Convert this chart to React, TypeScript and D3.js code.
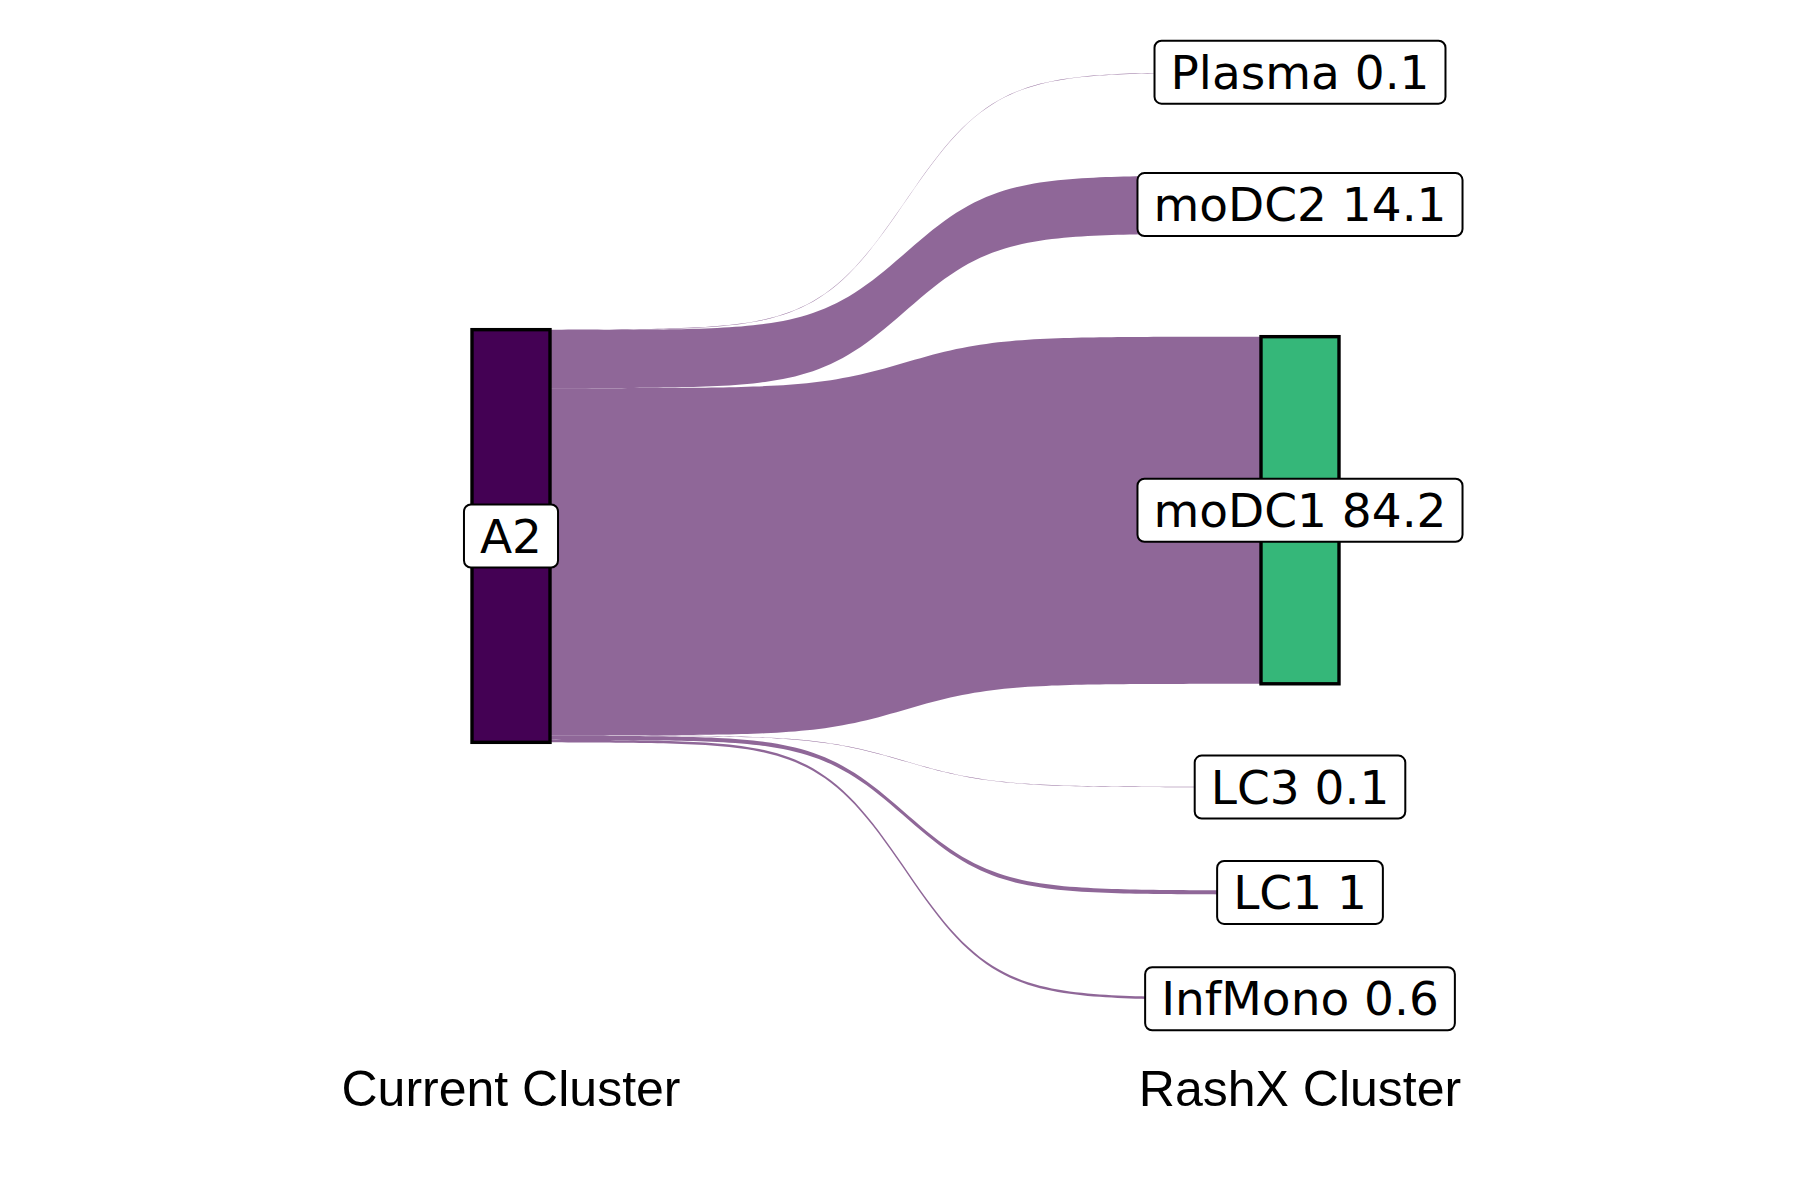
import React, { useEffect, useRef } from "react";
import * as d3 from "d3";

// current cluster (left) and the RashX clusters it maps to (right), in %
const sourceNode = "A2";
const targetNodes = ["Plasma", "moDC2", "moDC1", "LC3", "LC1", "InfMono"];
const flowValues = [0.1, 14.1, 84.2, 0.1, 1, 0.6];
const targetColors = ["#443A83", "#31688E", "#35B779", "#21908C", "#8FD744", "#FDE725"];
const axisLabels = ["Current Cluster", "RashX Cluster"];

const W = 1800, H = 1200;

const App = () => {
  const ref = useRef<SVGSVGElement>(null);

  useEffect(() => {
    const svg = d3.select(ref.current);
    svg.selectAll("*").remove();

    const space = 25; // gap between nodes, in value units
    const total = d3.sum(flowValues);
    const xScale = d3.scaleLinear().domain([0, 1]).range([511, 1300]);
    const yScale = d3.scaleLinear().domain([0, total + space * (targetNodes.length - 1)]).range([72, 1000]);
    const k = yScale(1) - yScale(0);
    const nodeW = 78;
    const mid = (yScale.range()[0] + yScale.range()[1]) / 2;

    // right-hand node tops
    let acc = 0;
    const rightNodes = targetNodes.map((name, i) => {
      const y0 = yScale(acc);
      acc += flowValues[i] + space;
      return { name, value: flowValues[i], y0, y1: y0 + flowValues[i] * k, color: targetColors[i] };
    });
    const leftTop = mid - (total * k) / 2;
    const leftBottom = mid + (total * k) / 2;

    // flows (sigmoid curves like ggsankey)
    const xL = xScale(0) + nodeW / 2, xR = xScale(1) - nodeW / 2;
    const smooth = 8, n = 120;
    const ts = d3.range(n).map(i => -smooth + (2 * smooth * i) / (n - 1));
    const sig = (t: number) => 1 / (1 + Math.exp(-t));
    const s0 = sig(-smooth), s1 = sig(smooth);
    const curve = (ya: number, yb: number) =>
      ts.map(t => [xL + ((t + smooth) / (2 * smooth)) * (xR - xL), ya + ((sig(t) - s0) / (s1 - s0)) * (yb - ya)] as [number, number]);

    let cum = leftTop;
    const flowG = svg.append("g");
    rightNodes.forEach(nd => {
      const h = nd.value * k;
      const top = curve(cum, nd.y0);
      const bottom = curve(cum + h, nd.y1).reverse();
      cum += h;
      flowG.append("path")
        .attr("d", d3.line()([...top, ...bottom]) + "Z")
        .attr("fill", "#440154")
        .attr("fill-opacity", 0.6)
        .attr("stroke", "none");
    });

    // nodes
    svg.append("rect")
      .attr("x", xScale(0) - nodeW / 2).attr("y", leftTop)
      .attr("width", nodeW).attr("height", leftBottom - leftTop)
      .attr("fill", "#440154").attr("stroke", "black").attr("stroke-width", 3.4);
    rightNodes.forEach(nd => {
      svg.append("rect")
        .attr("x", xScale(1) - nodeW / 2).attr("y", nd.y0)
        .attr("width", nodeW).attr("height", nd.y1 - nd.y0)
        .attr("fill", nd.color).attr("stroke", "black").attr("stroke-width", 3.4);
    });

    // labels
    const label = (txt: string, cx: number, cy: number) => {
      const g = svg.append("g");
      const rect = g.append("rect");
      const t = g.append("text")
        .attr("x", cx).attr("y", cy)
        .attr("text-anchor", "middle").attr("dominant-baseline", "central")
        .attr("font-family", "DejaVu Sans").attr("font-size", 47)
        .attr("fill", "black").text(txt);
      const bw = (t.node() as SVGTextElement).getComputedTextLength();
      rect.attr("x", cx - bw / 2 - 16).attr("y", cy - 31.5)
        .attr("width", bw + 32).attr("height", 63)
        .attr("rx", 7).attr("ry", 7)
        .attr("fill", "white").attr("stroke", "black").attr("stroke-width", 2);
    };
    label(sourceNode, xScale(0), mid);
    rightNodes.forEach(nd => label(`${nd.name} ${nd.value}`, xScale(1), (nd.y0 + nd.y1) / 2));

    // column titles
    axisLabels.forEach((l, i) => {
      svg.append("text")
        .attr("x", xScale(i)).attr("y", 1106)
        .attr("text-anchor", "middle")
        .attr("font-family", "Liberation Sans, Arial").attr("font-size", 50)
        .attr("fill", "black").text(l);
    });
  }, []);

  return (
    <svg ref={ref} width={W} height={H} style={{ position: "absolute", left: 0, top: 0, background: "white" }} />
  );
};

export default App;
